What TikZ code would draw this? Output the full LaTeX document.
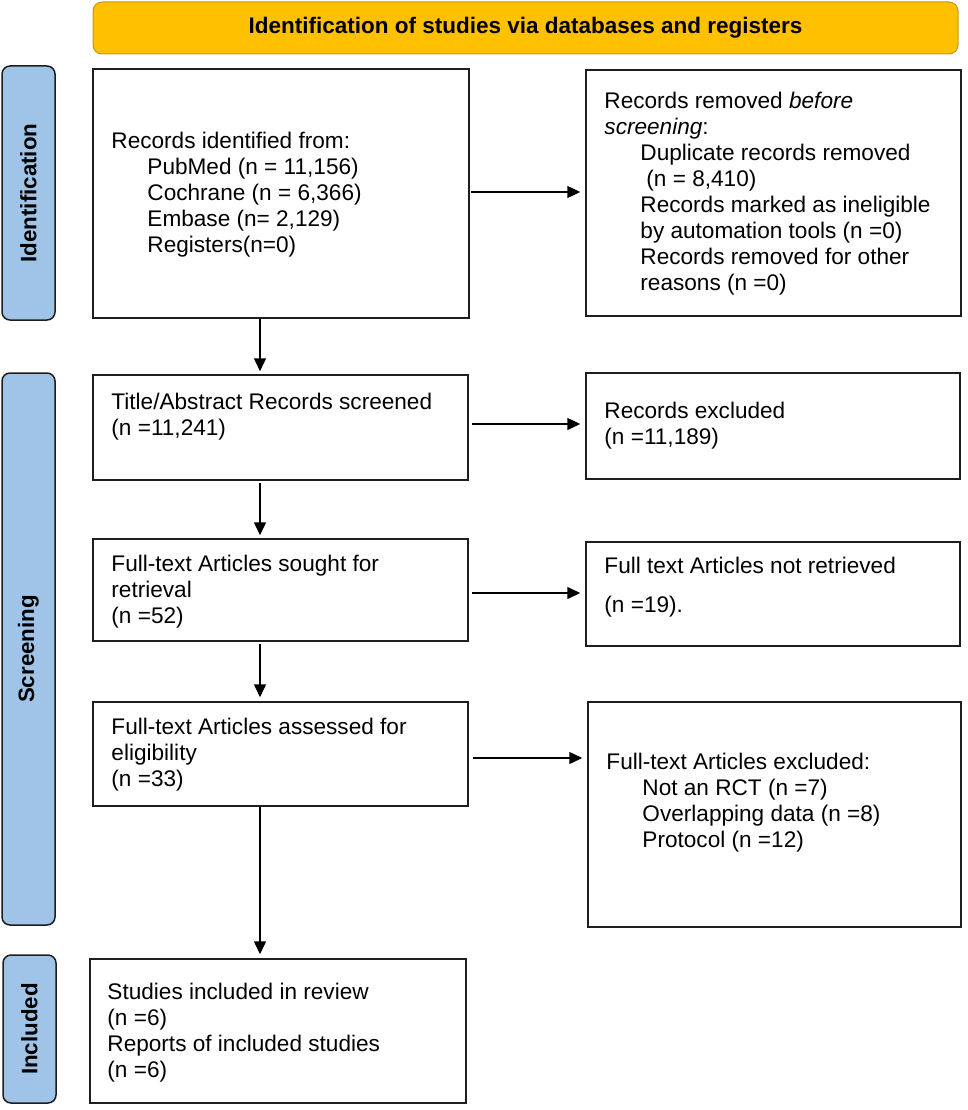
\documentclass[tikz,border=0pt]{standalone}
\usepackage{fontspec}
\setmainfont{Liberation Sans}
\usetikzlibrary{arrows.meta}
\definecolor{bannerfill}{RGB}{255,192,0}
\definecolor{bannerdraw}{RGB}{195,150,30}
\definecolor{sidefill}{RGB}{160,196,232}
\definecolor{linecol}{RGB}{30,30,30}
\begin{document}
\begin{tikzpicture}[x=1pt,y=-1pt,
  flowbox/.style={draw=linecol, line width=1.5pt, inner sep=0pt, rectangle},
  txt/.style={anchor=west, align=left, inner sep=0pt, font=\fontsize{22.6pt}{26pt}\selectfont},
  side/.style={draw=linecol, line width=1.5pt, fill=sidefill, rounded corners=8pt, inner sep=0pt, font=\bfseries\fontsize{22.3pt}{26pt}\selectfont},
  banner/.style={draw=bannerdraw, line width=1pt, fill=bannerfill, rounded corners=9pt, inner sep=0pt, font=\bfseries\fontsize{22.5pt}{26pt}\selectfont},
  arr/.style={draw=black, line width=1.5pt, -{Triangle[length=13pt,width=12pt]}}
]
\useasboundingbox (0,0) rectangle (967,1110);

% banner
\node[banner, minimum width=865pt, minimum height=52pt] (ban) at (525.5,28) {Identification of studies via databases and registers};

% side labels
\node[side, rotate=90, minimum width=254pt, minimum height=53pt] (s1) at (28.5,193) {Identification};
\node[side, rotate=90, minimum width=552pt, minimum height=53pt] (s2) at (28.5,649) {Screening};
\node[side, rotate=90, minimum width=148pt, minimum height=53pt] (s3) at (29.5,1029) {Included};

% boxes
\node[flowbox, minimum width=376pt, minimum height=249pt] (b1) at (281,193.5) {};
\node[flowbox, minimum width=375pt, minimum height=246pt] (b2) at (773.5,193) {};
\node[flowbox, minimum width=375pt, minimum height=105pt] (b3) at (280.5,427.5) {};
\node[flowbox, minimum width=374pt, minimum height=106pt] (b4) at (773,426) {};
\node[flowbox, minimum width=375pt, minimum height=102pt] (b5) at (280.5,590) {};
\node[flowbox, minimum width=374pt, minimum height=104pt] (b6) at (773,594) {};
\node[flowbox, minimum width=375pt, minimum height=104pt] (b7) at (280.5,754) {};
\node[flowbox, minimum width=373pt, minimum height=225pt] (b8) at (774.5,814.5) {};
\node[flowbox, minimum width=376pt, minimum height=144pt] (b9) at (278,1031) {};

% texts
\node[txt] (t1) at ([xshift=19pt,yshift=-1pt]b1.west) {Records identified from:\\
\hspace*{36pt}PubMed (n = 11,156)\\
\hspace*{36pt}Cochrane (n = 6,366)\\
\hspace*{36pt}Embase (n= 2,129)\\
\hspace*{36pt}Registers(n=0)};
\node[txt] (t2) at ([xshift=19pt,yshift=-1pt]b2.west) {Records removed \textit{before}\\
\textit{screening}:\\
\hspace*{36pt}Duplicate records removed\\
\hspace*{42pt}(n = 8,410)\\
\hspace*{36pt}Records marked as ineligible\\
\hspace*{36pt}by automation tools (n =0)\\
\hspace*{36pt}Records removed for other\\
\hspace*{36pt}reasons (n =0)};
\node[txt] (t3) at ([xshift=19pt,yshift=11pt]b3.west) {Title/Abstract Records screened\\(n =11,241)};
\node[txt] (t4) at ([xshift=19pt]b4.west) {Records excluded\\(n =11,189)};
\node[txt] (t5) at ([xshift=19pt,yshift=-2pt]b5.west) {Full-text Articles sought for\\retrieval\\(n =52)};
\node[txt] (t6) at ([xshift=19pt,yshift=7pt]b6.west) {Full text Articles not retrieved\\[13pt](n =19).};
\node[txt] (t7) at ([xshift=19pt,yshift=-0.5pt]b7.west) {Full-text Articles assessed for\\eligibility\\(n =33)};
\node[txt] (t8) at ([xshift=19pt,yshift=12pt]b8.west) {Full-text Articles excluded:\\
\hspace*{36pt}Not an RCT (n =7)\\
\hspace*{36pt}Overlapping data (n =8)\\
\hspace*{36pt}Protocol (n =12)};
\node[txt] (t9) at ([xshift=18pt,yshift=-2pt]b9.west) {Studies included in review\\(n =6)\\Reports of included studies\\(n =6)};

% vertical arrows
\coordinate (ax) at (260,0);
\draw[arr, shorten >=3pt] (b1.south -| ax) -- (b3.north -| ax);
\draw[arr, shorten <=2pt, shorten >=3pt] (b3.south -| ax) -- (b5.north -| ax);
\draw[arr, shorten <=2pt, shorten >=4pt] (b5.south -| ax) -- (b7.north -| ax);
\draw[arr, shorten >=4pt] (b7.south -| ax) -- (b9.north -| ax);

% horizontal arrows
\draw[arr, shorten <=1pt, shorten >=5pt] ([yshift=1.5pt]b1.east) -- ([yshift=1.5pt]b1.east -| b2.west);
\draw[arr, shorten <=3pt, shorten >=5pt] ([yshift=3.5pt]b3.east) -- ([yshift=3.5pt]b3.east -| b4.west);
\draw[arr, shorten <=3pt, shorten >=5pt] ([yshift=-3pt]b5.east) -- ([yshift=-3pt]b5.east -| b6.west);
\draw[arr, shorten <=4pt, shorten >=5pt] ([yshift=-4pt]b7.east) -- ([yshift=-4pt]b7.east -| b8.west);
\end{tikzpicture}
\end{document}
